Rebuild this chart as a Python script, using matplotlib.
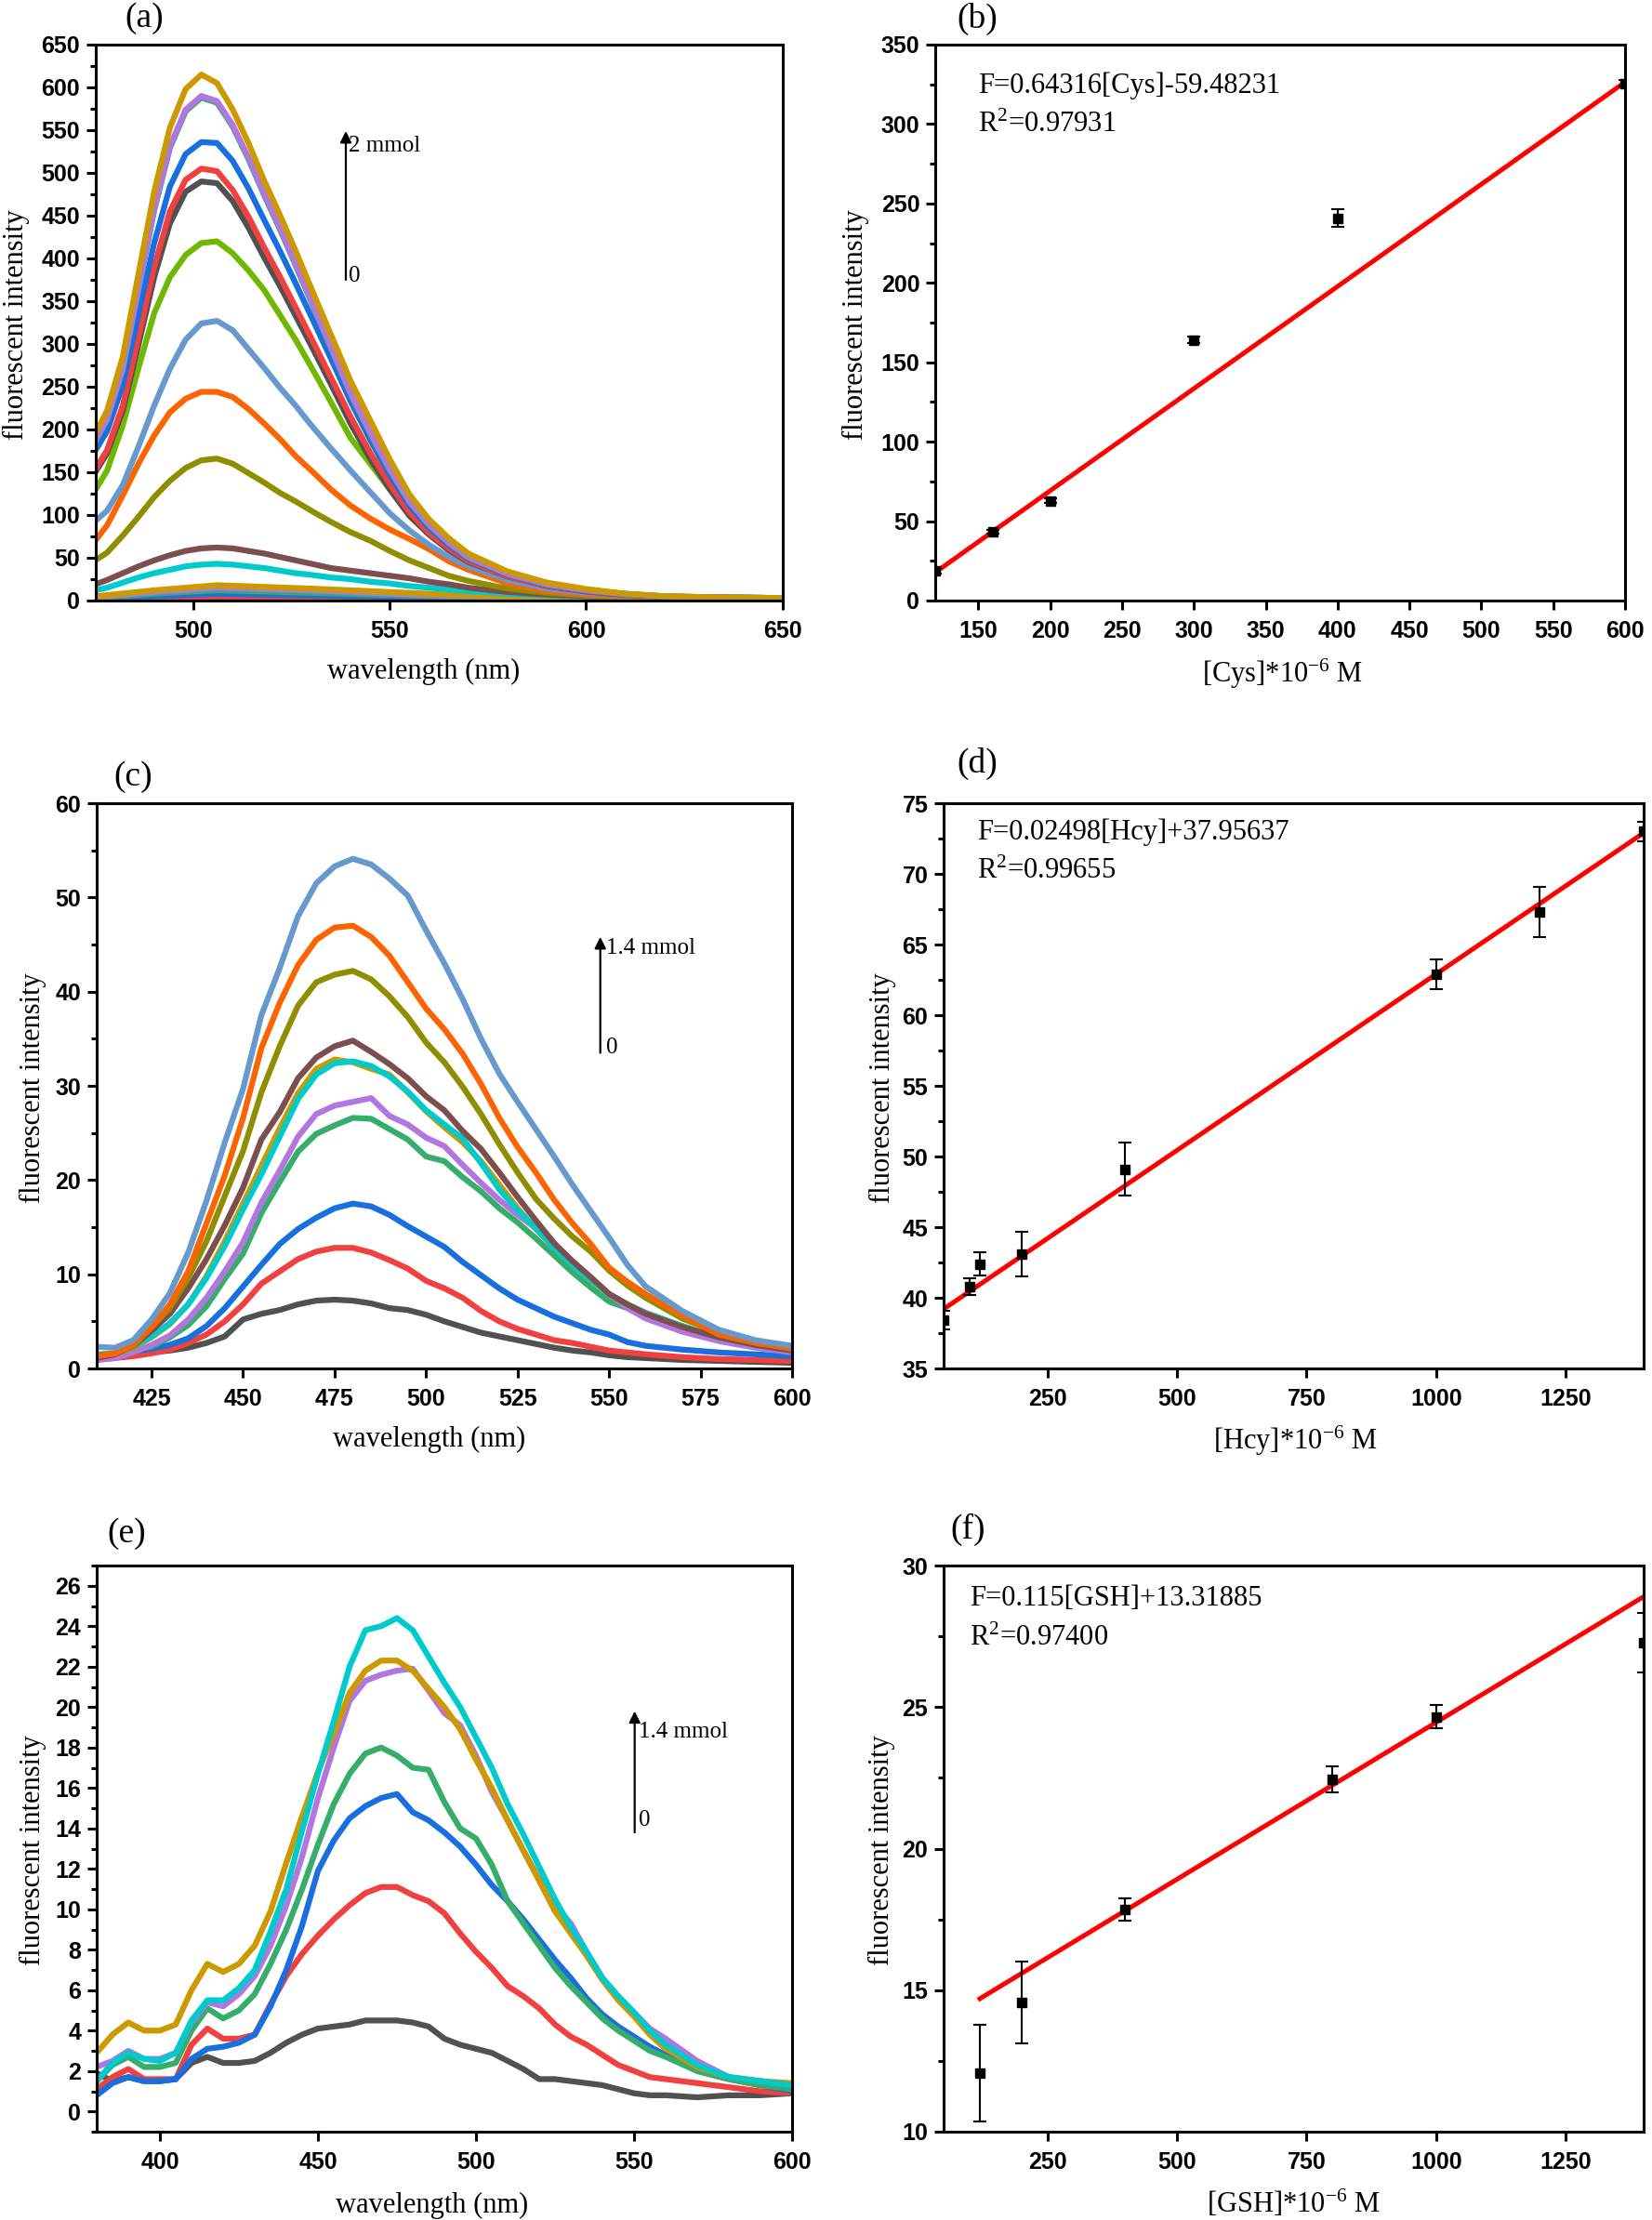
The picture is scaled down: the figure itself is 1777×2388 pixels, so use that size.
import numpy as np
import matplotlib.pyplot as plt
from matplotlib.ticker import MultipleLocator

plt.rcParams['font.family'] = ['Liberation Serif', 'DejaVu Serif']
plt.rcParams['mathtext.fontset'] = 'custom'
plt.rcParams['mathtext.rm'] = 'Liberation Serif'
plt.rcParams['mathtext.it'] = 'Liberation Serif:italic'

W, H = 1777, 2388

# Origin default line colours (order used by the spectra)
colors = ['#515151', '#F14040', '#1A6FDF', '#37AD6B', '#B177DE', '#CC9900',
          '#00CBCC', '#7D4E4E', '#8E8E00', '#FB6501', '#6699CC', '#6FB802']

# ---------------- (a) Cys spectra ----------------
wl_a_low = [475, 490, 506, 530, 550, 570, 600, 650]
a_low = [
    [0.5, 0.8, 1, 1, 0.8, 0.6, 0.5, 0.5],
    [1.5, 3.5, 5, 4, 3, 2, 1, 1],
    [2, 5, 8, 6, 4.5, 3, 1.5, 1],
    [3, 8, 12, 9, 6.5, 4, 2, 1.5],
    [4, 10, 15, 12, 8, 5, 2.5, 1.5],
    [5, 12, 18, 14, 10, 6, 3, 2],
]
wl_a = [475, 478, 482, 486, 490, 494, 498, 502, 506, 510, 514, 518, 522, 526, 530,
        535, 540, 545, 550, 555, 560, 565, 570, 580, 590, 600, 610, 620, 635, 650]
a_cyan = [12, 15, 21, 27, 32, 36, 40, 42, 43, 42, 40, 38, 35, 32, 30, 27, 25, 22, 20, 17, 15, 13, 11, 8, 6, 4, 3, 2.5, 2, 1.5]
a_high = [
    [19, 24, 32, 40, 47, 53, 58, 61, 62, 61, 58, 55, 51, 47, 43, 38, 35, 32, 29, 26, 22, 19, 15, 10, 7, 5, 3.5, 3, 2.5, 2],
    [47, 56, 76, 98, 121, 140, 155, 164, 166, 160, 149, 138, 126, 116, 105, 92, 80, 70, 58, 47, 38, 29, 23, 14, 9, 6, 4, 3, 2.5, 2],
    [70, 88, 123, 160, 193, 220, 236, 244, 244, 238, 224, 207, 189, 169, 152, 130, 111, 96, 83, 72, 60, 46, 36, 20, 11, 7, 5, 4, 3, 2.5],
    [93, 105, 135, 180, 228, 271, 305, 324, 327, 316, 294, 272, 249, 228, 205, 178, 152, 127, 102, 82, 65, 51, 40, 24, 14, 9, 6, 4, 3, 2.5],
    [129, 152, 205, 272, 336, 378, 404, 418, 420, 406, 386, 363, 334, 305, 273, 232, 190, 160, 130, 104, 83, 66, 51, 31, 19, 12, 8, 5, 3.5, 3],
    [150, 172, 222, 299, 378, 441, 478, 490, 488, 467, 436, 401, 368, 333, 298, 253, 207, 166, 130, 99, 77, 59, 45, 28, 17, 10.5, 6.5, 4.5, 3.5, 3],
    [153, 176, 228, 308, 390, 455, 492, 505, 502, 480, 449, 413, 379, 343, 307, 261, 215, 173, 136, 103, 79, 61, 46, 28, 17.5, 11, 7, 4.5, 3.5, 3],
    [175, 198, 252, 335, 418, 484, 522, 536, 535, 514, 482, 445, 409, 371, 332, 283, 233, 188, 147, 111, 85, 65, 49, 30, 18.5, 11.5, 7, 4.5, 3.5, 3],
    [186, 211, 270, 363, 456, 529, 572, 588, 582, 554, 516, 474, 434, 392, 349, 295, 241, 195, 152, 115, 88, 67, 50, 31, 19, 12, 7.5, 5, 3.5, 3],
    [187, 212, 272, 365, 458, 531, 574, 590, 584, 556, 518, 476, 436, 394, 351, 297, 243, 197, 154, 116, 89, 68, 51, 31, 19, 12, 7.5, 5, 3.5, 3],
    [195, 222, 285, 382, 478, 553, 598, 615, 605, 574, 535, 491, 451, 409, 365, 311, 257, 211, 165, 124, 95, 73, 55, 34, 21, 13.5, 8, 5, 3.5, 3],
]
a_high_colors = [colors[7], colors[8], colors[9], colors[10], colors[11],
                 colors[0], colors[1], colors[2], colors[3], colors[4], colors[5]]

# ---------------- (b) Cys calibration ----------------
cys_conc = [120, 160, 200, 300, 400, 600]
cys_int = [18.8, 43.4, 62.8, 164.0, 240.7, 325.7]
cys_err = [2.0, 1.0, 1.5, 2.0, 5.5, 2.0]
cys_fit_x = [120, 600]
cys_fit_y = [17.7, 326.4]

# ---------------- (c) Hcy spectra ----------------
wl_c = [410, 415, 420, 425, 430, 435, 440, 445, 450, 455, 460, 465, 470, 475, 480, 485, 490,
        495, 500, 505, 510, 515, 520, 525, 530, 535, 540, 545, 550, 555, 560, 570, 580, 590, 600]
c_spec = [
    [1.3, 1.4, 1.6, 1.7, 1.9, 2.2, 2.7, 3.4, 5.2, 5.8, 6.2, 6.8, 7.2, 7.3, 7.2, 6.9, 6.4, 6.2, 5.7, 5.0, 4.4, 3.8, 3.4, 3.0, 2.6, 2.2, 1.9, 1.7, 1.4, 1.2, 1.1, 0.9, 0.8, 0.7, 0.6],
    [0.9, 1.1, 1.3, 1.6, 2.0, 2.7, 3.6, 5.0, 6.8, 9.0, 10.3, 11.6, 12.4, 12.8, 12.8, 12.3, 11.5, 10.6, 9.3, 8.5, 7.5, 6.1, 5.0, 4.2, 3.6, 3.0, 2.7, 2.3, 1.9, 1.7, 1.5, 1.2, 1.0, 0.9, 0.8],
    [1.3, 1.5, 1.8, 2.1, 2.5, 3.2, 4.5, 6.4, 8.7, 11.0, 13.2, 14.8, 16.0, 17.0, 17.5, 17.2, 16.3, 15.1, 14.0, 12.9, 11.3, 9.9, 8.5, 7.3, 6.4, 5.5, 4.8, 4.1, 3.6, 2.8, 2.4, 2.0, 1.7, 1.5, 1.3],
    [1.5, 1.6, 2.0, 2.3, 3.3, 4.6, 6.6, 9.5, 12.2, 16.5, 19.8, 23.0, 24.9, 25.8, 26.6, 26.5, 25.4, 24.3, 22.5, 22.0, 20.3, 18.8, 17.0, 15.5, 13.8, 12.0, 10.2, 8.6, 7.1, 6.4, 5.6, 4.1, 3.0, 2.4, 1.9],
    [0.9, 1.1, 1.7, 2.5, 3.5, 5.2, 7.5, 10.3, 13.4, 17.6, 21.0, 24.6, 27.0, 27.9, 28.3, 28.7, 26.8, 25.9, 24.5, 23.6, 21.6, 19.7, 17.9, 16.3, 14.9, 13.1, 11.3, 9.6, 7.9, 6.4, 5.3, 3.9, 2.9, 2.2, 1.7],
    [1.2, 1.5, 2.2, 3.3, 4.7, 6.8, 9.8, 13.5, 17.5, 21.5, 25.5, 29.2, 31.8, 32.8, 32.5, 31.8, 31.2, 29.3, 27.3, 25.6, 24.0, 22.0, 19.5, 17.0, 14.8, 12.8, 11.0, 9.4, 7.9, 6.8, 5.9, 4.5, 3.3, 2.5, 1.9],
    [1.3, 1.6, 2.3, 3.4, 4.8, 6.8, 9.6, 13.0, 16.9, 20.6, 24.6, 28.6, 31.2, 32.4, 32.6, 32.1, 31.0, 29.4, 27.4, 25.9, 24.4, 21.8, 19.0, 16.8, 14.9, 12.8, 11.0, 9.4, 7.9, 6.8, 5.9, 4.5, 3.3, 2.5, 1.9],
    [1.1, 1.5, 2.4, 4.0, 5.8, 8.5, 11.6, 15.2, 19.2, 24.3, 27.2, 30.8, 33.0, 34.2, 34.8, 33.6, 32.3, 30.8, 28.9, 27.4, 25.2, 23.3, 20.8, 18.2, 15.7, 13.3, 11.4, 9.7, 7.9, 6.8, 5.8, 4.4, 3.3, 2.5, 1.9],
    [1.3, 1.6, 2.4, 4.4, 6.4, 9.6, 13.5, 18.3, 23.1, 29.3, 34.2, 38.5, 41.0, 41.8, 42.2, 41.3, 39.5, 37.3, 34.6, 32.5, 29.9, 27.0, 23.8, 20.8, 18.0, 15.9, 14.0, 12.4, 10.4, 8.8, 7.5, 5.3, 3.8, 2.8, 2.1],
    [1.3, 1.6, 2.5, 4.4, 6.8, 10.3, 15.4, 20.5, 26.6, 34.0, 38.8, 42.8, 45.5, 46.8, 47.0, 45.8, 43.8, 41.0, 38.2, 36.0, 33.4, 30.2, 26.6, 23.5, 20.8, 17.9, 15.4, 13.2, 10.7, 9.2, 7.9, 5.6, 3.6, 2.7, 2.1],
    [2.3, 2.2, 3.0, 5.2, 8.0, 12.3, 17.8, 24.0, 29.7, 37.5, 42.5, 48.0, 51.5, 53.3, 54.1, 53.5, 52.0, 50.2, 46.5, 43.0, 39.2, 35.0, 31.3, 28.3, 25.4, 22.5, 19.5, 16.7, 13.9, 11.0, 8.7, 6.1, 4.1, 3.0, 2.4],
]

# ---------------- (d) Hcy calibration ----------------
hcy_conc = [50, 100, 120, 200, 400, 1000, 1200, 1400]
hcy_int = [38.4, 40.8, 42.4, 43.1, 49.1, 62.9, 67.3, 73.0]
hcy_err = [0.65, 0.6, 0.8, 1.6, 1.87, 1.05, 1.8, 0.7]
hcy_fit_x = [50, 1400]
hcy_fit_y = [39.2, 72.9]

# ---------------- (e) GSH spectra ----------------
wl_e = [380, 385, 390, 395, 400, 405, 410, 415, 420, 425, 430, 435, 440, 445, 450, 455, 460,
        465, 470, 475, 480, 485, 490, 495, 500, 505, 510, 515, 520, 525, 530, 535, 540, 545,
        550, 555, 560, 570, 580, 590, 600]
e_spec = [
    [1.9, 1.5, 1.7, 1.5, 1.5, 1.6, 2.4, 2.7, 2.4, 2.4, 2.5, 2.9, 3.4, 3.8, 4.1, 4.2, 4.3, 4.5, 4.5, 4.5, 4.4, 4.2, 3.6, 3.3, 3.1, 2.9, 2.5, 2.1, 1.6, 1.6, 1.5, 1.4, 1.3, 1.1, 0.9, 0.8, 0.8, 0.7, 0.8, 0.8, 0.9],
    [1.1, 1.7, 2.1, 1.6, 1.6, 1.6, 3.3, 4.1, 3.6, 3.6, 3.8, 5.3, 6.7, 7.8, 8.7, 9.5, 10.2, 10.8, 11.1, 11.1, 10.7, 10.4, 9.8, 8.8, 7.9, 7.1, 6.2, 5.7, 5.1, 4.3, 3.7, 3.3, 2.8, 2.3, 2.0, 1.7, 1.6, 1.4, 1.2, 1.0, 0.9],
    [0.8, 1.4, 1.7, 1.5, 1.5, 1.6, 2.6, 3.1, 3.2, 3.4, 3.8, 5.2, 7.0, 9.2, 11.9, 13.4, 14.5, 15.1, 15.5, 15.7, 14.8, 14.4, 13.8, 13.1, 12.2, 11.2, 10.4, 9.5, 8.5, 7.5, 6.6, 5.6, 4.8, 4.2, 3.7, 3.2, 2.8, 2.0, 1.6, 1.3, 1.0],
    [1.5, 2.3, 2.7, 2.2, 2.2, 2.4, 4.0, 5.1, 4.6, 5.0, 5.8, 7.3, 9.0, 11.0, 13.2, 15.2, 16.7, 17.7, 18.0, 17.6, 17.0, 16.9, 15.3, 14.0, 13.5, 12.2, 10.4, 9.3, 8.2, 7.1, 6.2, 5.4, 4.6, 4.0, 3.5, 3.0, 2.7, 2.0, 1.6, 1.3, 1.1],
    [2.2, 2.5, 3.0, 2.6, 2.6, 2.9, 4.4, 5.4, 5.2, 5.8, 6.7, 8.2, 10.2, 12.6, 15.5, 18.0, 20.3, 21.3, 21.6, 21.8, 21.9, 20.8, 19.7, 19.1, 17.6, 15.8, 14.4, 12.9, 11.5, 10.2, 9.3, 7.9, 6.6, 5.7, 4.9, 4.1, 3.6, 2.5, 1.7, 1.5, 1.3],
    [2.9, 3.8, 4.4, 4.0, 4.0, 4.3, 6.0, 7.3, 6.9, 7.3, 8.2, 9.9, 12.3, 14.6, 16.8, 18.7, 20.7, 21.8, 22.3, 22.3, 21.8, 20.9, 20.0, 18.9, 17.4, 16.0, 14.4, 12.9, 11.4, 9.9, 8.8, 7.7, 6.5, 5.5, 4.7, 3.8, 3.1, 2.2, 1.7, 1.5, 1.4],
    [1.5, 2.4, 2.9, 2.6, 2.5, 2.9, 4.5, 5.5, 5.5, 6.1, 7.0, 8.9, 11.0, 13.9, 16.7, 19.3, 22.0, 23.8, 24.0, 24.4, 23.8, 22.5, 21.2, 20.0, 18.5, 17.0, 15.2, 13.7, 12.1, 10.5, 9.1, 7.9, 6.6, 5.7, 4.9, 4.0, 3.3, 2.3, 1.7, 1.5, 1.3],
]

# ---------------- (f) GSH calibration ----------------
gsh_conc = [120, 200, 400, 800, 1000, 1400]
gsh_int = [12.07, 14.56, 17.85, 22.45, 24.66, 27.26]
gsh_err = [1.7, 1.45, 0.4, 0.47, 0.4, 1.05]
gsh_fit_x = [120, 1400]
gsh_fit_y = [14.7, 28.9]

tick_font = dict(fontfamily=['Liberation Sans Narrow', 'Liberation Sans'],
                 fontweight='bold', fontsize=18)


def add_box(left, right, top, bottom):
    return fig.add_axes([left / W, 1 - bottom / H, (right - left) / W, (bottom - top) / H])


def style_axes(ax, xlim, ylim, xticks, yticks, yminor):
    ax.set_xlim(*xlim)
    ax.set_ylim(*ylim)
    ax.set_xticks(xticks, [str(v) for v in xticks], **tick_font)
    ax.set_yticks(yticks, [str(v) for v in yticks], **tick_font)
    ax.yaxis.set_minor_locator(MultipleLocator(yminor))
    for s in ax.spines.values():
        s.set_linewidth(2.2)
    ax.tick_params(which='major', direction='out', length=7, width=2.2, pad=5)
    ax.tick_params(which='minor', direction='out', length=4, width=2.2)
    ax.tick_params(axis='x', pad=8)


def fig_text(x, y, s, **kw):
    fig.text(x / W, 1 - y / H, s, ha='center', va='center', **kw)


def conc_arrow(ax, x, y0, y1, top_txt, tx, ty_top, ty0):
    ax.annotate('', xy=(x, y1), xytext=(x, y0),
                arrowprops=dict(arrowstyle='-|>', color='k', lw=1.6, mutation_scale=18,
                                shrinkA=0, shrinkB=0))
    ax.text(tx, ty_top, top_txt, fontsize=18, ha='left', va='center')
    ax.text(tx, ty0, '0', fontsize=18, ha='left', va='center')


def calib(ax, xs, ys, es, fx, fy, eq, r2, tx, ty1, ty2):
    ax.plot(fx, fy, color='#FF0000', lw=3.6, zorder=2)
    ax.errorbar(xs, ys, yerr=es, fmt='s', color='k', ms=6.5, elinewidth=1.5,
                capsize=5, capthick=1.5, zorder=3)
    ax.text(tx, ty1, eq, transform=ax.transAxes, fontsize=22, va='center')
    ax.text(tx, ty2, r2, transform=ax.transAxes, fontsize=22, va='center')


fig = plt.figure(figsize=(W / 100, H / 100), dpi=100)
lw = 4.5

# (a)
ax = add_box(102.5, 841.7, 48, 646)
for i, ys in enumerate(a_low):
    ax.plot(wl_a_low, ys, color=colors[i], lw=lw)
ax.plot(wl_a, a_cyan, color=colors[6], lw=lw)
for ys, c in zip(a_high, a_high_colors):
    ax.plot(wl_a, ys, color=c, lw=lw)
style_axes(ax, (475, 650), (0, 650), list(range(500, 651, 50)), list(range(0, 651, 50)), 25)
conc_arrow(ax, 538.8, 375, 549, '2 mmol', 539.5, 531, 379)

# (b)
ax = add_box(1006, 1748, 48, 646)
calib(ax, cys_conc, cys_int, cys_err, cys_fit_x, cys_fit_y,
      'F=0.64316[Cys]-59.48231', 'R$^2$=0.97931', 0.062, 0.926, 0.855)
style_axes(ax, (120, 600), (0, 350), list(range(150, 601, 50)), list(range(0, 351, 50)), 25)

# (c)
ax = add_box(104, 852, 864, 1472)
for i, ys in enumerate(c_spec):
    ax.plot(wl_c, ys, color=colors[i], lw=lw)
style_axes(ax, (410, 600), (0, 60), list(range(425, 601, 25)), list(range(0, 61, 10)), 5)
conc_arrow(ax, 547.6, 33.5, 45.8, '1.4 mmol', 549.2, 44.6, 34.0)

# (d)
ax = add_box(1015, 1768, 864, 1472)
calib(ax, hcy_conc, hcy_int, hcy_err, hcy_fit_x, hcy_fit_y,
      'F=0.02498[Hcy]+37.95637', 'R$^2$=0.99655', 0.048, 0.949, 0.879)
style_axes(ax, (50, 1400), (35, 75), list(range(250, 1251, 250)), list(range(35, 76, 5)), 2.5)

# (e)
ax = add_box(104, 852, 1684, 2293)
for i, ys in enumerate(e_spec):
    ax.plot(wl_e, ys, color=colors[i], lw=lw)
style_axes(ax, (380, 600), (-1, 27), list(range(400, 601, 50)), list(range(0, 27, 2)), 1)
conc_arrow(ax, 550.2, 13.8, 19.8, '1.4 mmol', 551.5, 18.75, 14.4)

# (f)
ax = add_box(1015, 1768, 1684, 2293)
calib(ax, gsh_conc, gsh_int, gsh_err, gsh_fit_x, gsh_fit_y,
      'F=0.115[GSH]+13.31885', 'R$^2$=0.97400', 0.037, 0.941, 0.871)
style_axes(ax, (50, 1400), (10, 30), list(range(250, 1251, 250)), list(range(10, 31, 5)), 2.5)

# panel letters
for s, x, y in [('(a)', 155, 20), ('(b)', 1051, 20), ('(c)', 143, 836),
                ('(d)', 1051, 821), ('(e)', 136, 1650), ('(f)', 1041, 1645)]:
    fig_text(x, y, s, fontsize=27)

# axis titles
for x, y in [(17, 349), (920, 349), (35, 1170), (949, 1170), (35, 1990), (948, 1990)]:
    fig_text(x, y, 'fluorescent intensity', fontsize=22, rotation=90)
for x, y in [(456, 722), (462, 1548), (465, 2372)]:
    fig_text(x, y, 'wavelength (nm)', fontsize=22)
fig_text(1380, 725, '[Cys]*10$^{-6}$ M', fontsize=22)
fig_text(1393, 1550, '[Hcy]*10$^{-6}$ M', fontsize=22)
fig_text(1391, 2370, '[GSH]*10$^{-6}$ M', fontsize=22)

fig.savefig('out.png', dpi=100, facecolor='white')
